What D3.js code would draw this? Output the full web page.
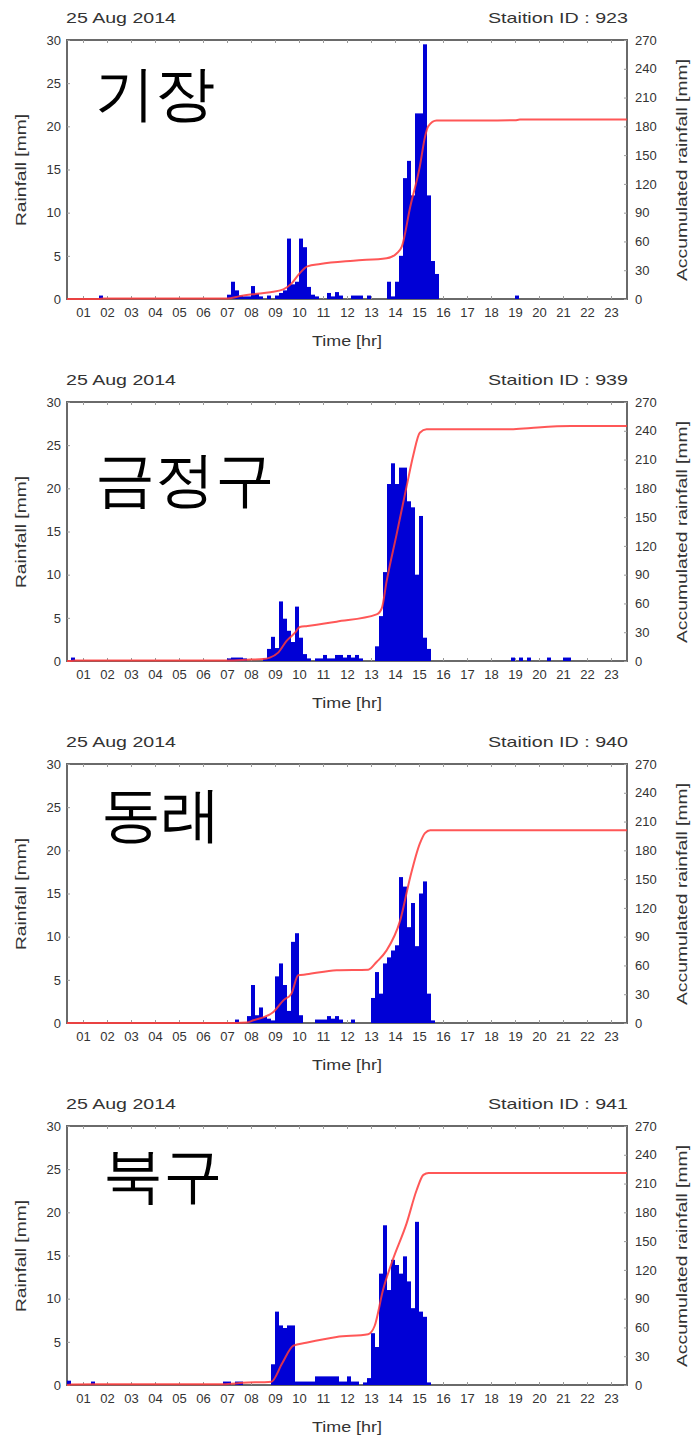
<!DOCTYPE html>
<html>
<head>
<meta charset="utf-8">
<script src="https://cdn.jsdelivr.net/npm/d3@7"></script>
<style>
  body { margin: 0; background: #fff; }
  svg { display: block; }
  text { font-family: "Liberation Sans", Arial, sans-serif; fill: #333; }
</style>
</head>
<body>
<svg id="chart" width="694" height="1439"></svg>
<script>
// ---- labels ----
const dateLabel = "25 Aug 2014";
const stationIds = [923, 939, 940, 941];
const districtNames = ["기장", "금정구", "동래", "북구"];
const hourLabels = ["01","02","03","04","05","06","07","08","09","10","11","12",
                    "13","14","15","16","17","18","19","20","21","22","23"];
const rainTicks = [0, 5, 10, 15, 20, 25, 30];
const accTicks = [0, 30, 60, 90, 120, 150, 180, 210, 240, 270];

// ---- 10-minute rainfall [mm], keyed by slot start time ----
const rain923 = [
  ["01:40",0.4],
  ["07:00",0.5],["07:10",2.0],["07:20",1.0],["07:30",0.4],["07:40",0.3],["07:50",0.3],
  ["08:00",1.5],["08:10",0.6],["08:20",0.3],["08:40",0.4],
  ["09:00",0.4],["09:10",0.7],["09:20",1.0],["09:30",7.0],["09:40",1.7],["09:50",2.0],
  ["10:00",7.0],["10:10",6.0],["10:20",1.4],["10:30",0.5],["10:40",0.3],
  ["11:10",0.7],["11:20",0.3],["11:30",0.8],["11:40",0.4],
  ["12:10",0.4],["12:20",0.4],["12:30",0.4],["12:50",0.4],
  ["13:40",2.0],["13:50",0.3],["14:00",2.0],["14:10",5.0],["14:20",14.0],["14:30",16.0],
  ["14:40",12.0],["14:50",21.5],["15:00",21.5],["15:10",29.5],["15:20",12.0],["15:30",4.4],
  ["15:40",2.9],
  ["19:00",0.4]
];
const rain939 = [
  ["00:30",0.4],
  ["07:00",0.3],["07:10",0.4],["07:20",0.4],["07:30",0.4],["07:40",0.3],
  ["08:30",0.3],["08:40",1.4],["08:50",2.8],
  ["09:00",1.5],["09:10",6.9],["09:20",4.9],["09:30",3.5],["09:40",2.2],["09:50",6.3],
  ["10:00",2.7],["10:10",0.8],["10:20",0.3],["10:40",0.3],["10:50",0.3],
  ["11:00",0.7],["11:10",0.3],["11:20",0.3],["11:30",0.7],["11:40",0.7],["11:50",0.4],
  ["12:00",0.7],["12:10",0.4],["12:20",0.7],["12:30",0.3],
  ["13:10",1.7],["13:20",5.2],["13:30",10.3],["13:40",20.5],["13:50",22.9],
  ["14:00",20.5],["14:10",22.4],["14:20",22.4],["14:30",18.5],["14:40",17.8],["14:50",10.0],
  ["15:00",16.8],["15:10",2.7],["15:20",1.4],
  ["18:50",0.4],["19:10",0.4],["19:30",0.4],["20:20",0.4],["21:00",0.4],["21:10",0.4]
];
const rain940 = [
  ["07:20",0.4],["07:50",0.8],
  ["08:00",4.4],["08:10",0.9],["08:20",1.8],["08:30",0.7],["08:40",0.5],["08:50",0.3],
  ["09:00",5.4],["09:10",6.9],["09:20",4.4],["09:30",1.4],["09:40",9.4],["09:50",10.4],
  ["10:00",0.9],["10:40",0.4],["10:50",0.4],
  ["11:00",0.4],["11:10",0.8],["11:20",0.5],["11:30",0.8],["11:40",0.4],
  ["12:10",0.4],
  ["13:00",2.9],["13:10",5.9],["13:20",3.4],["13:30",6.9],["13:40",7.6],["13:50",8.4],
  ["14:00",9.0],["14:10",16.9],["14:20",15.8],["14:30",11.1],["14:40",13.9],["14:50",8.9],
  ["15:00",15.0],["15:10",16.4],["15:20",3.4],["15:30",0.3]
];
const rain941 = [
  ["00:20",0.5],["01:20",0.4],
  ["06:50",0.4],["07:00",0.4],["07:20",0.4],["07:30",0.4],
  ["08:50",2.4],
  ["09:00",8.5],["09:10",6.9],["09:20",6.6],["09:30",6.9],["09:40",6.9],["09:50",0.4],
  ["10:00",0.4],["10:10",0.4],["10:20",0.4],["10:30",0.4],["10:40",1.0],["10:50",1.0],
  ["11:00",1.0],["11:10",1.0],["11:20",1.0],["11:30",1.0],["11:40",0.4],["11:50",0.4],
  ["12:00",1.0],["12:10",0.4],["12:20",0.4],["12:40",0.3],["12:50",0.8],
  ["13:00",6.0],["13:10",4.4],["13:20",12.9],["13:30",18.5],["13:40",11.0],["13:50",14.5],
  ["14:00",13.9],["14:10",12.9],["14:20",14.9],["14:30",12.0],["14:40",8.9],["14:50",18.9],
  ["15:00",8.5],["15:10",7.9],["15:20",0.3]
];

// ---- accumulated rainfall [mm] ----
const acc923 = [
  ["00:20",0],["01:40",0],["01:50",0.4],["07:00",0.4],["07:32",3],["08:06",5],["08:48",7],
  ["09:21",10],["09:41",16],["10:02",27],["10:21",34],["10:53",36.5],["12:16",40],
  ["13:39",42.5],["14:04",47.5],["14:17",54.5],["14:38",96],["15:02",138],["15:15",169],
  ["15:23",180],["15:44",186],["19:00",186.3],["19:12",187],["23:40",187]
];
const acc939 = [
  ["00:20",0],["00:30",0],["00:40",0.4],["07:00",0.4],["08:00",1.5],["08:30",2],
  ["08:47",3.5],["09:08",8.7],["09:29",21],["09:50",29.5],["10:02",35.4],["10:21",36.5],
  ["11:34",41],["13:14",48.6],["13:27",55],["13:39",83],["14:04",132],["14:29",182],
  ["14:46",215],["15:02",238],["15:19",241.5],["18:50",241.5],["19:40",243],
  ["21:20",245],["23:40",245]
];
const acc940 = [
  ["00:20",0],["07:20",0],["07:49",0.5],["08:06",2.8],["08:56",11.5],["09:21",23.6],
  ["09:41",30.6],["09:58",49.7],["10:19",50.7],["11:34",55],["12:53",55.6],["13:14",63.6],
  ["13:39",75.7],["14:13",107],["14:38",152],["15:02",187],["15:15",198],["15:28",201],
  ["23:40",201]
];
const acc941 = [
  ["00:20",0],["00:30",0.5],["01:30",0.9],["06:50",0.9],["07:40",2.3],["08:51",3.5],
  ["09:18",22.6],["09:46",41],["10:18",44],["11:34",50],["12:53",53],["13:09",61.5],
  ["13:30",99],["13:54",130],["14:29",168.5],["14:54",203],["15:11",219],["15:24",221],
  ["23:40",221]
];

const rainSeries = [rain923, rain939, rain940, rain941];
const accSeries = [acc923, acc939, acc940, acc941];

// per-panel placement of the district name (baseline, relative to the panel)
const nameX = [95, 95, 101, 103];
const nameY = [114, 138, 111, 110];

// ---- layout ----
const panelStep = 362;
const plot = { left: 67, right: 627, top: 40, bottom: 299 };
const slotHours = 10 / 60;
const toHours = s => { const [h, m] = s.split(":").map(Number); return h + m / 60; };

const x = d3.scaleLinear().domain([toHours("00:20"), toHours("23:40")]).range([plot.left, plot.right]);
const yRain = d3.scaleLinear().domain([0, 30]).range([plot.bottom, plot.top]);
const yAcc = d3.scaleLinear().domain([0, 270]).range([plot.bottom, plot.top]);

const svg = d3.select("#chart");
const defs = svg.append("defs");
defs.append("clipPath").attr("id", "plot-clip")
  .append("rect")
  .attr("x", plot.left).attr("y", plot.top - 2)
  .attr("width", plot.right - plot.left).attr("height", plot.bottom - plot.top + 4);

const hourValues = hourLabels.map(Number);

stationIds.forEach((id, i) => {
  const g = svg.append("g").attr("transform", `translate(0,${i * panelStep})`);

  // header texts
  g.append("text").attr("x", 66).attr("y", 23)
    .attr("font-size", 15).attr("textLength", 110).attr("lengthAdjust", "spacingAndGlyphs")
    .text(dateLabel);
  g.append("text").attr("x", 628).attr("y", 23).attr("text-anchor", "end")
    .attr("font-size", 15).attr("textLength", 140).attr("lengthAdjust", "spacingAndGlyphs")
    .text(`Staition ID : ${id}`);

  // frame
  g.append("rect")
    .attr("x", plot.left).attr("y", plot.top)
    .attr("width", plot.right - plot.left).attr("height", plot.bottom - plot.top)
    .attr("fill", "#fff").attr("stroke", "#6a6a6a").attr("stroke-width", 2);

  const styleAxis = sel => {
    sel.select(".domain").remove();
    sel.selectAll(".tick line").attr("stroke", "#9a9a9a");
    sel.selectAll(".tick text").attr("fill", "#333").attr("font-size", 13)
      .attr("font-family", "'Liberation Sans', Arial, sans-serif");
  };

  // axes with inward ticks
  g.append("g").attr("transform", `translate(0,${plot.bottom})`)
    .call(d3.axisBottom(x).tickValues(hourValues).tickFormat((d, k) => hourLabels[k])
      .tickSizeInner(-3).tickSizeOuter(0).tickPadding(9))
    .call(styleAxis);
  g.append("g").attr("transform", `translate(0,${plot.top})`)
    .call(d3.axisTop(x).tickValues(hourValues).tickFormat("")
      .tickSizeInner(-3).tickSizeOuter(0))
    .call(styleAxis);
  g.append("g").attr("transform", `translate(${plot.left},0)`)
    .call(d3.axisLeft(yRain).tickValues(rainTicks).tickSizeInner(-3).tickSizeOuter(0).tickPadding(6))
    .call(styleAxis);
  g.append("g").attr("transform", `translate(${plot.right},0)`)
    .call(d3.axisRight(yAcc).tickValues(accTicks).tickSizeInner(-3).tickSizeOuter(0).tickPadding(8))
    .call(styleAxis);

  // axis titles
  g.append("text").attr("x", 347).attr("y", 346).attr("text-anchor", "middle")
    .attr("font-size", 15).attr("textLength", 70).attr("lengthAdjust", "spacingAndGlyphs")
    .text("Time [hr]");
  g.append("text").attr("transform", "translate(26,170) rotate(-90)").attr("text-anchor", "middle")
    .attr("font-size", 15).attr("textLength", 112).attr("lengthAdjust", "spacingAndGlyphs")
    .text("Rainfall [mm]");
  g.append("text").attr("transform", "translate(687,170) rotate(-90)").attr("text-anchor", "middle")
    .attr("font-size", 15).attr("textLength", 222).attr("lengthAdjust", "spacingAndGlyphs")
    .text("Accumulated rainfall [mm]");

  // district name
  g.append("text").attr("x", nameX[i]).attr("y", nameY[i])
    .attr("font-family", "'Noto Sans CJK KR', sans-serif")
    .attr("font-size", 60).style("fill", "#000")
    .text(districtNames[i]);

  const inner = g.append("g").attr("clip-path", "url(#plot-clip)");

  // rainfall bars
  inner.selectAll("rect.bar").data(rainSeries[i]).join("rect")
    .attr("class", "bar")
    .attr("x", d => x(toHours(d[0])))
    .attr("width", d => x(toHours(d[0]) + slotHours) - x(toHours(d[0])))
    .attr("y", d => yRain(d[1]))
    .attr("height", d => yRain(0) - yRain(d[1]))
    .attr("fill", "#0000d6");

  // accumulated rainfall curve
  const line = d3.line()
    .x(d => x(toHours(d[0])))
    .y(d => yAcc(d[1]))
    .curve(d3.curveMonotoneX);
  inner.append("path").datum(accSeries[i])
    .attr("d", line)
    .attr("fill", "none")
    .attr("stroke", "#ff3a3a")
    .attr("stroke-opacity", 0.85)
    .attr("stroke-width", 2);
});
</script>
</body>
</html>
